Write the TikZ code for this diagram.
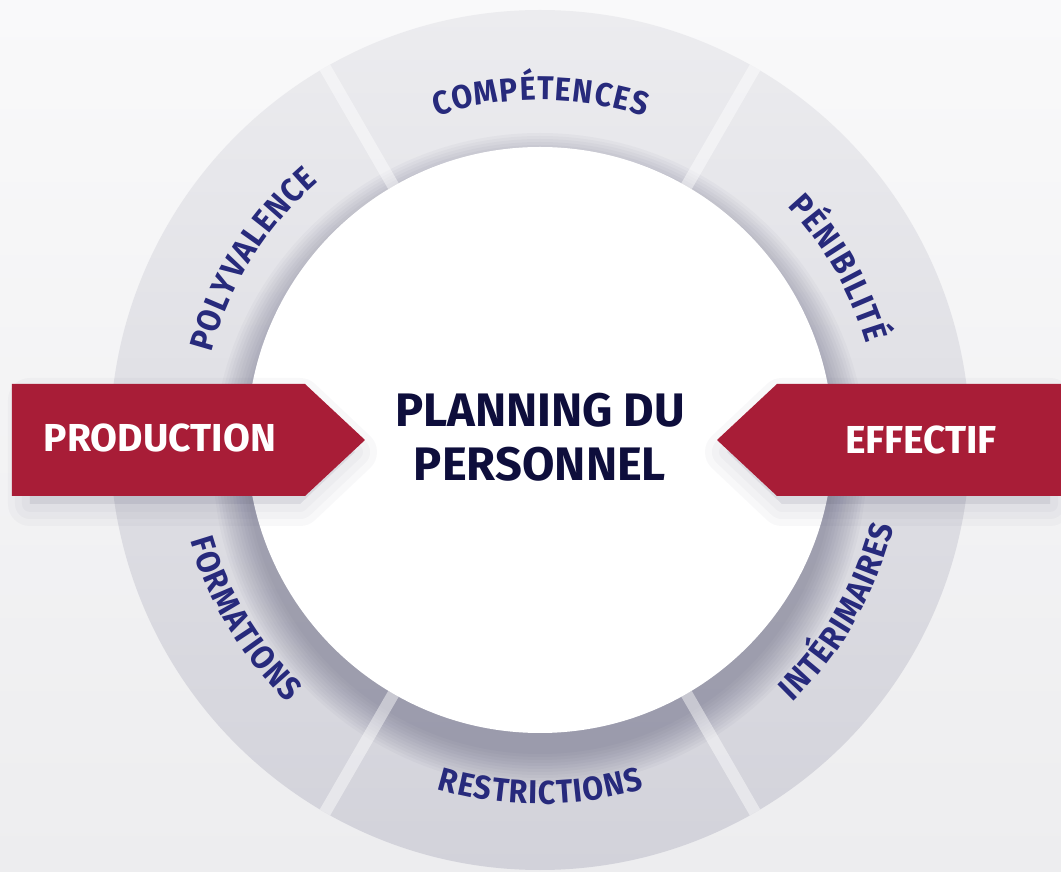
\documentclass[tikz,border=0pt]{standalone}
\usepackage{fontspec}
\setmainfont{Fira Sans}
\newfontfamily\ringfont[FakeStretch=0.92]{Fira Sans}
\usetikzlibrary{decorations.text}
\definecolor{ringred}{HTML}{A81D37}
\definecolor{ringblue}{HTML}{272A7C}
\definecolor{plannavy}{HTML}{0E0E3C}
\definecolor{ringlight}{HTML}{ECECEF}
\definecolor{ringdark}{HTML}{D2D2DA}
\definecolor{shadowgray}{HTML}{3C3C5E}
\definecolor{bgtop}{HTML}{F9F9FA}
\definecolor{bgbot}{HTML}{EDEDEF}
\begin{document}
\begin{tikzpicture}[x=1pt, y=1pt, line join=round,
 sidearrow/.style={fill=ringred},
 sidetext/.style={text=white, font=\bfseries\fontsize{39}{39}\selectfont},
 gapline/.style={white, opacity=0.45, line width=12pt},
 ringlabel/.style={decorate, decoration={text along path, text align=center,
   text={|\ringfont\bfseries\fontsize{33}{33}\selectfont\color{ringblue}\kern1.2pt|#1}}}]
 \def\rin{293}\def\rout{430}\def\rtop{340}\def\rbot{364}
 \useasboundingbox (-540,-432) rectangle (521,440);
 \shade[top color=bgtop, bottom color=bgbot] (-540,-432) rectangle (521,440);
 % ring
 \shade[top color=ringlight, bottom color=ringdark] (0,0) circle[radius=\rout];
 \foreach \k in {0,...,11}
 \fill[shadowgray, opacity=0.035] (0,-20) circle[radius={\rin+34-3*\k}];
 \foreach \a in {0,60,...,300}
 \draw[gapline] (\a:\rin) -- (\a:\rout);
 \fill[white] (0,0) circle[radius=\rin];
 % arrow shadows
 \foreach \w in {44,30,16} {
 \filldraw[shadowgray, opacity=0.03, line width=\w pt]
 (-510,40)--(-240,40)--(-185,-12)--(-240,-64)--(-510,-64)--cycle;
 \filldraw[shadowgray, opacity=0.03, line width=\w pt]
 (510,40)--(242,40)--(187,-12)--(242,-64)--(510,-64)--cycle;
 }
 % arrows
 \fill[sidearrow] (-528,56)--(-235,56)--(-175,0)--(-235,-56)--(-528,-56)--cycle;
 \fill[sidearrow] (521,56)--(237,56)--(177,0)--(237,-56)--(521,-56)--cycle;
 \node[sidetext] (prod) at (-380,2) {PRODUCTION};
 \node[sidetext] (eff) at (381,0) {EFFECTIF};
 % labels on the ring
 \path[ringlabel=COMPÉTENCES] (127:\rtop) arc[start angle=127, end angle=53, radius=\rtop];
 \path[ringlabel=POLYVALENCE] (185:\rtop) arc[start angle=185, end angle=111, radius=\rtop];
 \path[ringlabel=PÉNIBILITÉ] (67:\rtop) arc[start angle=67, end angle=-7, radius=\rtop];
 \path[ringlabel=FORMATIONS] (174:\rbot) arc[start angle=174, end angle=248, radius=\rbot];
 \path[ringlabel=RESTRICTIONS] (233:\rbot) arc[start angle=233, end angle=307, radius=\rbot];
 \path[ringlabel=INTÉRIMAIRES] (293:\rbot) arc[start angle=293, end angle=367, radius=\rbot];
 \node[text=plannavy, align=center, font=\bfseries\fontsize{47}{54}\selectfont] (plan) at (0,3) {PLANNING DU\\PERSONNEL};
\end{tikzpicture}
\end{document}
